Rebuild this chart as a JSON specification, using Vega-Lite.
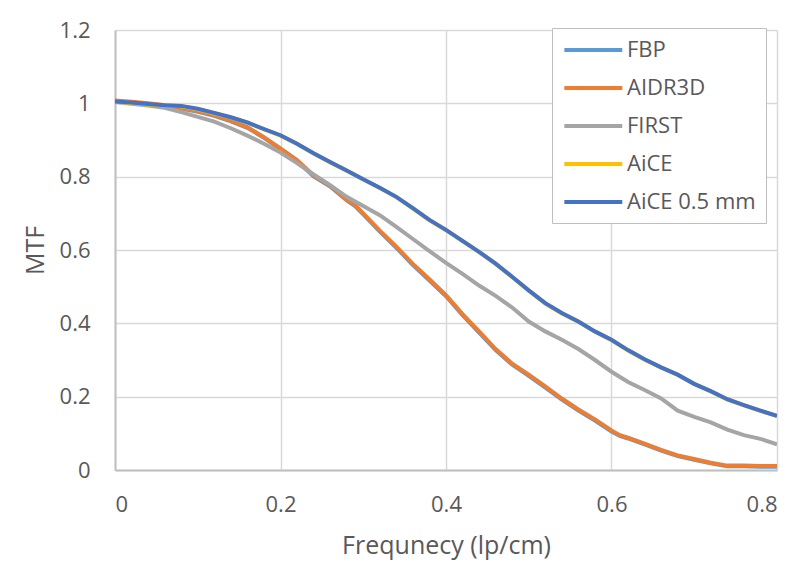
{
"$schema": "https://vega.github.io/schema/vega-lite/v6.json",
"width": 662, "height": 440,
"autosize": {"type": "none"},
"padding": {"left": 115, "top": 30, "right": 23, "bottom": 100},
"background": "white",
"config": {"view": {"stroke": null}, "font": "Open Sans"},
"data": {"values": [
{"s":"FBP","f":0,"v":1.006},{"s":"FBP","f":0.02,"v":1.002},{"s":"FBP","f":0.04,"v":0.998},{"s":"FBP","f":0.06,"v":0.993},{"s":"FBP","f":0.08,"v":0.986},{"s":"FBP","f":0.1,"v":0.977},{"s":"FBP","f":0.12,"v":0.966},{"s":"FBP","f":0.14,"v":0.951},{"s":"FBP","f":0.16,"v":0.933},{"s":"FBP","f":0.18,"v":0.906},{"s":"FBP","f":0.2,"v":0.875},{"s":"FBP","f":0.22,"v":0.843},{"s":"FBP","f":0.24,"v":0.801},{"s":"FBP","f":0.26,"v":0.773},{"s":"FBP","f":0.28,"v":0.735},{"s":"FBP","f":0.29,"v":0.72},{"s":"FBP","f":0.3,"v":0.697},{"s":"FBP","f":0.32,"v":0.65},{"s":"FBP","f":0.34,"v":0.606},{"s":"FBP","f":0.36,"v":0.559},{"s":"FBP","f":0.38,"v":0.517},{"s":"FBP","f":0.4,"v":0.474},{"s":"FBP","f":0.42,"v":0.422},{"s":"FBP","f":0.44,"v":0.375},{"s":"FBP","f":0.46,"v":0.327},{"s":"FBP","f":0.48,"v":0.287},{"s":"FBP","f":0.5,"v":0.257},{"s":"FBP","f":0.52,"v":0.225},{"s":"FBP","f":0.54,"v":0.192},{"s":"FBP","f":0.56,"v":0.162},{"s":"FBP","f":0.58,"v":0.135},{"s":"FBP","f":0.6,"v":0.105},{"s":"FBP","f":0.61,"v":0.093},{"s":"FBP","f":0.62,"v":0.086},{"s":"FBP","f":0.64,"v":0.07},{"s":"FBP","f":0.66,"v":0.053},{"s":"FBP","f":0.68,"v":0.038},{"s":"FBP","f":0.7,"v":0.028},{"s":"FBP","f":0.72,"v":0.018},{"s":"FBP","f":0.74,"v":0.01},{"s":"FBP","f":0.76,"v":0.01},{"s":"FBP","f":0.78,"v":0.009},{"s":"FBP","f":0.8,"v":0.009},
{"s":"AIDR3D","f":0,"v":1.008},{"s":"AIDR3D","f":0.02,"v":1.004},{"s":"AIDR3D","f":0.04,"v":1.0},{"s":"AIDR3D","f":0.06,"v":0.995},{"s":"AIDR3D","f":0.08,"v":0.988},{"s":"AIDR3D","f":0.1,"v":0.979},{"s":"AIDR3D","f":0.12,"v":0.968},{"s":"AIDR3D","f":0.14,"v":0.953},{"s":"AIDR3D","f":0.16,"v":0.935},{"s":"AIDR3D","f":0.18,"v":0.908},{"s":"AIDR3D","f":0.2,"v":0.877},{"s":"AIDR3D","f":0.22,"v":0.845},{"s":"AIDR3D","f":0.24,"v":0.803},{"s":"AIDR3D","f":0.26,"v":0.775},{"s":"AIDR3D","f":0.28,"v":0.737},{"s":"AIDR3D","f":0.29,"v":0.723},{"s":"AIDR3D","f":0.3,"v":0.7},{"s":"AIDR3D","f":0.32,"v":0.653},{"s":"AIDR3D","f":0.34,"v":0.609},{"s":"AIDR3D","f":0.36,"v":0.562},{"s":"AIDR3D","f":0.38,"v":0.52},{"s":"AIDR3D","f":0.4,"v":0.477},{"s":"AIDR3D","f":0.42,"v":0.425},{"s":"AIDR3D","f":0.44,"v":0.378},{"s":"AIDR3D","f":0.46,"v":0.33},{"s":"AIDR3D","f":0.48,"v":0.29},{"s":"AIDR3D","f":0.5,"v":0.26},{"s":"AIDR3D","f":0.52,"v":0.228},{"s":"AIDR3D","f":0.54,"v":0.195},{"s":"AIDR3D","f":0.56,"v":0.165},{"s":"AIDR3D","f":0.58,"v":0.138},{"s":"AIDR3D","f":0.6,"v":0.108},{"s":"AIDR3D","f":0.61,"v":0.095},{"s":"AIDR3D","f":0.62,"v":0.088},{"s":"AIDR3D","f":0.64,"v":0.072},{"s":"AIDR3D","f":0.66,"v":0.055},{"s":"AIDR3D","f":0.68,"v":0.04},{"s":"AIDR3D","f":0.7,"v":0.03},{"s":"AIDR3D","f":0.72,"v":0.02},{"s":"AIDR3D","f":0.74,"v":0.012},{"s":"AIDR3D","f":0.76,"v":0.012},{"s":"AIDR3D","f":0.78,"v":0.011},{"s":"AIDR3D","f":0.8,"v":0.011},
{"s":"FIRST","f":0,"v":1.004},{"s":"FIRST","f":0.02,"v":0.999},{"s":"FIRST","f":0.04,"v":0.994},{"s":"FIRST","f":0.06,"v":0.988},{"s":"FIRST","f":0.08,"v":0.976},{"s":"FIRST","f":0.1,"v":0.963},{"s":"FIRST","f":0.12,"v":0.95},{"s":"FIRST","f":0.14,"v":0.932},{"s":"FIRST","f":0.16,"v":0.912},{"s":"FIRST","f":0.18,"v":0.89},{"s":"FIRST","f":0.2,"v":0.866},{"s":"FIRST","f":0.22,"v":0.837},{"s":"FIRST","f":0.24,"v":0.806},{"s":"FIRST","f":0.26,"v":0.777},{"s":"FIRST","f":0.28,"v":0.745},{"s":"FIRST","f":0.3,"v":0.72},{"s":"FIRST","f":0.32,"v":0.695},{"s":"FIRST","f":0.34,"v":0.663},{"s":"FIRST","f":0.36,"v":0.63},{"s":"FIRST","f":0.38,"v":0.597},{"s":"FIRST","f":0.4,"v":0.565},{"s":"FIRST","f":0.42,"v":0.535},{"s":"FIRST","f":0.44,"v":0.503},{"s":"FIRST","f":0.46,"v":0.475},{"s":"FIRST","f":0.48,"v":0.443},{"s":"FIRST","f":0.5,"v":0.405},{"s":"FIRST","f":0.52,"v":0.378},{"s":"FIRST","f":0.54,"v":0.355},{"s":"FIRST","f":0.56,"v":0.33},{"s":"FIRST","f":0.58,"v":0.3},{"s":"FIRST","f":0.6,"v":0.268},{"s":"FIRST","f":0.62,"v":0.24},{"s":"FIRST","f":0.64,"v":0.218},{"s":"FIRST","f":0.66,"v":0.195},{"s":"FIRST","f":0.68,"v":0.162},{"s":"FIRST","f":0.7,"v":0.145},{"s":"FIRST","f":0.72,"v":0.13},{"s":"FIRST","f":0.74,"v":0.11},{"s":"FIRST","f":0.76,"v":0.095},{"s":"FIRST","f":0.78,"v":0.085},{"s":"FIRST","f":0.8,"v":0.07},
{"s":"AiCE","f":0,"v":1.004},{"s":"AiCE","f":0.02,"v":1.001},{"s":"AiCE","f":0.04,"v":0.997},{"s":"AiCE","f":0.06,"v":0.994},{"s":"AiCE","f":0.08,"v":0.992},{"s":"AiCE","f":0.1,"v":0.984},{"s":"AiCE","f":0.12,"v":0.973},{"s":"AiCE","f":0.14,"v":0.961},{"s":"AiCE","f":0.16,"v":0.947},{"s":"AiCE","f":0.18,"v":0.929},{"s":"AiCE","f":0.2,"v":0.912},{"s":"AiCE","f":0.22,"v":0.889},{"s":"AiCE","f":0.24,"v":0.863},{"s":"AiCE","f":0.26,"v":0.839},{"s":"AiCE","f":0.28,"v":0.816},{"s":"AiCE","f":0.3,"v":0.792},{"s":"AiCE","f":0.32,"v":0.769},{"s":"AiCE","f":0.34,"v":0.744},{"s":"AiCE","f":0.36,"v":0.713},{"s":"AiCE","f":0.38,"v":0.681},{"s":"AiCE","f":0.4,"v":0.654},{"s":"AiCE","f":0.42,"v":0.624},{"s":"AiCE","f":0.44,"v":0.594},{"s":"AiCE","f":0.46,"v":0.562},{"s":"AiCE","f":0.48,"v":0.526},{"s":"AiCE","f":0.5,"v":0.489},{"s":"AiCE","f":0.52,"v":0.454},{"s":"AiCE","f":0.54,"v":0.427},{"s":"AiCE","f":0.56,"v":0.404},{"s":"AiCE","f":0.58,"v":0.377},{"s":"AiCE","f":0.6,"v":0.354},{"s":"AiCE","f":0.62,"v":0.326},{"s":"AiCE","f":0.64,"v":0.301},{"s":"AiCE","f":0.66,"v":0.279},{"s":"AiCE","f":0.68,"v":0.259},{"s":"AiCE","f":0.7,"v":0.234},{"s":"AiCE","f":0.72,"v":0.214},{"s":"AiCE","f":0.74,"v":0.192},{"s":"AiCE","f":0.76,"v":0.176},{"s":"AiCE","f":0.78,"v":0.161},{"s":"AiCE","f":0.8,"v":0.147},
{"s":"AiCE 0.5 mm","f":0,"v":1.005},{"s":"AiCE 0.5 mm","f":0.02,"v":1.002},{"s":"AiCE 0.5 mm","f":0.04,"v":0.998},{"s":"AiCE 0.5 mm","f":0.06,"v":0.995},{"s":"AiCE 0.5 mm","f":0.08,"v":0.993},{"s":"AiCE 0.5 mm","f":0.1,"v":0.985},{"s":"AiCE 0.5 mm","f":0.12,"v":0.974},{"s":"AiCE 0.5 mm","f":0.14,"v":0.962},{"s":"AiCE 0.5 mm","f":0.16,"v":0.948},{"s":"AiCE 0.5 mm","f":0.18,"v":0.93},{"s":"AiCE 0.5 mm","f":0.2,"v":0.913},{"s":"AiCE 0.5 mm","f":0.22,"v":0.89},{"s":"AiCE 0.5 mm","f":0.24,"v":0.864},{"s":"AiCE 0.5 mm","f":0.26,"v":0.84},{"s":"AiCE 0.5 mm","f":0.28,"v":0.817},{"s":"AiCE 0.5 mm","f":0.3,"v":0.793},{"s":"AiCE 0.5 mm","f":0.32,"v":0.77},{"s":"AiCE 0.5 mm","f":0.34,"v":0.745},{"s":"AiCE 0.5 mm","f":0.36,"v":0.714},{"s":"AiCE 0.5 mm","f":0.38,"v":0.682},{"s":"AiCE 0.5 mm","f":0.4,"v":0.655},{"s":"AiCE 0.5 mm","f":0.42,"v":0.625},{"s":"AiCE 0.5 mm","f":0.44,"v":0.595},{"s":"AiCE 0.5 mm","f":0.46,"v":0.563},{"s":"AiCE 0.5 mm","f":0.48,"v":0.527},{"s":"AiCE 0.5 mm","f":0.5,"v":0.49},{"s":"AiCE 0.5 mm","f":0.52,"v":0.455},{"s":"AiCE 0.5 mm","f":0.54,"v":0.428},{"s":"AiCE 0.5 mm","f":0.56,"v":0.405},{"s":"AiCE 0.5 mm","f":0.58,"v":0.378},{"s":"AiCE 0.5 mm","f":0.6,"v":0.355},{"s":"AiCE 0.5 mm","f":0.62,"v":0.327},{"s":"AiCE 0.5 mm","f":0.64,"v":0.302},{"s":"AiCE 0.5 mm","f":0.66,"v":0.28},{"s":"AiCE 0.5 mm","f":0.68,"v":0.26},{"s":"AiCE 0.5 mm","f":0.7,"v":0.235},{"s":"AiCE 0.5 mm","f":0.72,"v":0.215},{"s":"AiCE 0.5 mm","f":0.74,"v":0.193},{"s":"AiCE 0.5 mm","f":0.76,"v":0.177},{"s":"AiCE 0.5 mm","f":0.78,"v":0.162},{"s":"AiCE 0.5 mm","f":0.8,"v":0.148}
]},
"mark": {"type": "line", "strokeWidth": 4, "clip": true},
"encoding": {
"x": {"field": "f", "type": "quantitative", "scale": {"domain": [0, 0.8], "nice": false},
 "axis": {"values": [0, 0.2, 0.4, 0.6, 0.8], "format": "~g", "title": "Frequnecy (lp/cm)", "grid": true, "gridColor": "#d9d9d9", "gridWidth": 1.5, "domainColor": "#bfbfbf", "domainWidth": 2, "ticks": false, "labelPadding": 24, "labelFontSize": 22, "labelColor": "#595959", "labelFont": "Open Sans", "titleFont": "Open Sans", "titleFontSize": 25, "titleColor": "#595959", "titleFontWeight": "normal", "titlePadding": 18}},
"y": {"field": "v", "type": "quantitative", "scale": {"domain": [0, 1.2], "nice": false},
 "axis": {"values": [0, 0.2, 0.4, 0.6, 0.8, 1, 1.2], "format": "~g", "title": "MTF", "grid": true, "gridColor": "#d9d9d9", "gridWidth": 1.5, "domainColor": "#bfbfbf", "domainWidth": 2, "ticks": false, "labelPadding": 25, "labelFontSize": 22, "labelColor": "#595959", "labelFont": "Open Sans", "titleFont": "Open Sans", "titleFontSize": 25, "titleColor": "#595959", "titleFontWeight": "normal", "titlePadding": 11}},
"color": {"field": "s", "type": "nominal",
 "scale": {"domain": ["FBP", "AIDR3D", "FIRST", "AiCE", "AiCE 0.5 mm"], "range": ["#5b9bd5", "#ed7d31", "#a5a5a5", "#ffc000", "#4472c4"]},
 "legend": {"orient": "none", "legendX": 437, "legendY": -2, "direction": "vertical", "title": null, "symbolType": "M-1,0H5", "symbolSize": 373, "symbolStrokeWidth": 4, "labelFontSize": 22, "labelFont": "Open Sans", "labelColor": "#595959", "labelOffset": 41, "fillColor": "white", "strokeColor": "#bfbfbf", "padding": 10, "rowPadding": 15}}
}
}
